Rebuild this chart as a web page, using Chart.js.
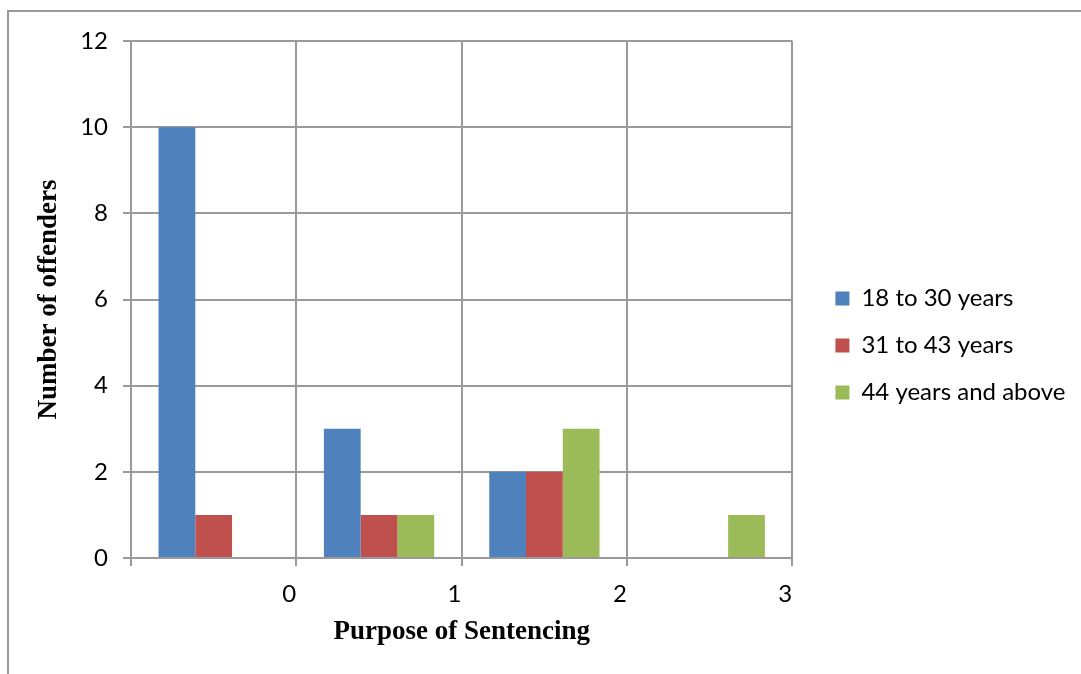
<!DOCTYPE html>
<html>
<head>
<meta charset="utf-8">
<script src="https://cdn.jsdelivr.net/npm/chart.js@4.4.1/dist/chart.umd.min.js"></script>
<style>
  html, body { margin: 0; padding: 0; background: #ffffff; overflow: hidden; }
  #wrap { position: relative; width: 1081px; height: 674px; }
  #frame { position: absolute; left: 7px; top: 10px; width: 1100px; height: 700px;
           border-left: 2px solid #9a9a9a; border-top: 2px solid #9a9a9a; }
  canvas { position: absolute; left: 0; top: 0; }
</style>
</head>
<body>
<div id="wrap">
  <div id="frame"></div>
  <canvas id="chart" width="1081" height="674"></canvas>
</div>
<script>
// Tick labels along the purpose axis
const categories = ['0', '1', '2', '3'];

// Offender counts per age group
const age18to30 = [10, 3, 2, 0];
const age31to43 = [1, 1, 2, 0];
const age44plus = [0, 1, 3, 1];

const seriesNames = ['18 to 30 years', '31 to 43 years', '44 years and above'];
const seriesColors = ['#4F81BD', '#C0504D', '#9BBB59'];

const yMin = 0;
const yMax = 12;
const yStep = 2;

const gridColor = '#9a9a9a';
const gridWidth = 2;
const tickFont = { family: 'Lato', size: 24 };
const titleFont = { family: 'Liberation Serif', size: 27, weight: 'bold' };

const seriesValues = [age18to30, age31to43, age44plus];

new Chart(document.getElementById('chart'), {
  type: 'bar',
  data: {
    labels: categories,
    datasets: seriesValues.map((vals, i) => ({
      label: seriesNames[i],
      data: vals,
      backgroundColor: seriesColors[i],
      borderWidth: 0,
      categoryPercentage: 0.667,
      barPercentage: 1.0
    }))
  },
  options: {
    responsive: false,
    animation: false,
    devicePixelRatio: 1,
    layout: { padding: { top: 41, left: 0, right: 5.5, bottom: 24 } },
    plugins: {
      tooltip: { enabled: false },
      legend: {
        position: 'right',
        align: 'center',
        maxWidth: 400,
        labels: {
          boxWidth: 14,
          boxHeight: 14,
          padding: 23,
          color: '#000000',
          font: tickFont
        }
      }
    },
    scales: {
      x: {
        type: 'category',
        offset: true,
        grid: { offset: true, color: gridColor, lineWidth: gridWidth, tickLength: 8, drawTicks: true },
        border: { color: gridColor, width: gridWidth },
        ticks: { color: '#000000', font: tickFont, padding: 14, labelOffset: 75.5, maxRotation: 0 },
        title: { display: true, text: 'Purpose of Sentencing', color: '#000000', font: titleFont,
                 padding: { top: 0, bottom: 1.4 } },
        afterFit: s => { s.height = 92; }
      },
      y: {
        min: yMin,
        max: yMax,
        grid: { color: gridColor, lineWidth: gridWidth, tickLength: 8 },
        border: { color: gridColor, width: gridWidth },
        ticks: { stepSize: yStep, color: '#000000', font: tickFont, padding: 15 },
        title: { display: true, text: 'Number of offenders', color: '#000000', font: titleFont,
                 padding: { top: 32.4, bottom: 0 } },
        afterFit: s => { s.width = 131; }
      },
      gap: {
        type: 'linear',
        position: 'right',
        display: true,
        grid: { display: false },
        border: { display: false },
        ticks: { display: false },
        afterFit: s => { s.width = 20; }
      }
    }
  }
});
</script>
</body>
</html>
